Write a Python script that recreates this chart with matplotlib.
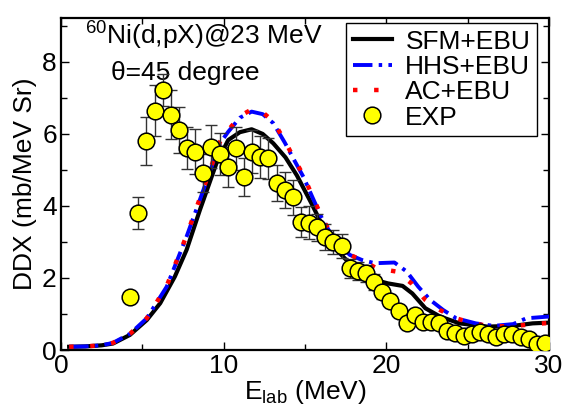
import numpy as np
import matplotlib
matplotlib.use('Agg')
import matplotlib.pyplot as plt
from matplotlib.ticker import MultipleLocator

plt.rcParams['font.family'] = ['Liberation Sans', 'DejaVu Sans']
plt.rcParams['mathtext.fontset'] = 'custom'
plt.rcParams['mathtext.rm'] = 'Liberation Sans'
plt.rcParams['mathtext.it'] = 'Liberation Sans'
plt.rcParams['lines.scale_dashes'] = False

e_exp = [4.25, 4.75, 5.25, 5.75, 6.25, 6.75, 7.25, 7.75, 8.25, 8.75, 9.25, 9.75,
         10.25, 10.75, 11.25, 11.75, 12.25, 12.75, 13.25, 13.75, 14.25, 14.75,
         15.25, 15.75, 16.25, 16.75, 17.25, 17.75, 18.25, 18.75, 19.25, 19.75,
         20.25, 20.75, 21.25, 21.75, 22.25, 22.75, 23.25, 23.75, 24.25, 24.75,
         25.25, 25.75, 26.25, 26.75, 27.25, 27.75, 28.25, 28.75, 29.25, 29.75]
ddx_exp = [1.47, 3.81, 5.81, 6.65, 7.22, 6.53, 6.11, 5.60, 5.51, 4.91, 5.65, 5.44,
           5.09, 5.60, 4.81, 5.51, 5.37, 5.32, 4.63, 4.44, 4.24, 3.56,
           3.54, 3.41, 3.13, 3.01, 2.89, 2.27, 2.20, 2.13, 1.90, 1.62,
           1.37, 1.09, 0.76, 0.97, 0.77, 0.79, 0.76, 0.54, 0.48, 0.39,
           0.44, 0.51, 0.44, 0.37, 0.44, 0.44, 0.37, 0.30, 0.17, 0.20]
err_exp = [0.15, 0.45, 0.66, 0.72, 0.45, 0.68, 0.63, 0.58, 0.62, 0.52, 0.60, 0.58,
           0.55, 0.60, 0.52, 0.60, 0.58, 0.56, 0.50, 0.50, 0.48, 0.42,
           0.45, 0.38, 0.36, 0.33, 0.33, 0.26, 0.25, 0.24, 0.22, 0.19,
           0.16, 0.13, 0.10, 0.12, 0.10, 0.10, 0.10, 0.07, 0.06, 0.05,
           0.06, 0.07, 0.06, 0.05, 0.06, 0.06, 0.05, 0.04, 0.03, 0.03]

# SFM+EBU
e_sfm = [0.5, 1.5, 2.5, 3.2, 4.24, 5.27, 6.1, 7.0, 7.72, 8.54, 9.26, 9.56, 10.28,
         11.0, 11.72, 12.4, 13.05, 13.8, 14.5, 15.4, 16.1, 16.95, 17.5, 18.0,
         19.35, 20.1, 21.0, 21.6, 22.4, 23.3, 24.5, 26.2, 27.8, 29.0, 30.0]
ddx_sfm = [0.09, 0.10, 0.13, 0.18, 0.42, 0.83, 1.30, 2.04, 2.78, 3.89, 4.81, 5.19, 5.83,
           6.05, 6.13, 6.00, 5.74, 5.35, 4.85, 4.07, 3.43, 2.78, 2.52, 2.33,
           1.94, 1.85, 1.78, 1.57, 1.16, 0.93, 0.74, 0.65, 0.67, 0.74, 0.76]

# HHS+EBU
e_hhs = [0.5, 1.5, 2.5, 3.2, 4.24, 5.27, 6.5, 7.72, 8.75, 9.77, 10.28, 11.0, 11.72,
         12.4, 13.05, 13.77, 14.28, 14.9, 15.5, 16.1, 16.9, 17.76, 18.5, 19.3,
         20.5, 21.25, 21.96, 22.7, 23.5, 24.3, 25.5, 26.6, 27.8, 28.6, 30.0]
ddx_hhs = [0.09, 0.10, 0.13, 0.20, 0.45, 0.88, 1.76, 3.15, 4.44, 5.74, 6.06, 6.45, 6.62,
           6.55, 6.30, 5.75, 5.32, 4.81, 4.20, 3.60, 3.00, 2.64, 2.50, 2.41,
           2.43, 2.18, 1.76, 1.39, 1.11, 0.88, 0.74, 0.67, 0.72, 0.88, 0.93]

# AC+EBU
e_ac = [0.5, 1.5, 2.5, 3.2, 4.24, 5.27, 6.5, 7.72, 8.75, 9.77, 10.28, 11.0, 11.72,
        12.4, 13.05, 13.77, 14.28, 14.9, 15.5, 16.1, 16.9, 17.76, 18.5, 19.4,
        20.6, 21.55, 22.4, 23.3, 24.3, 25.5, 26.6, 27.8, 29.0, 30.0]
ddx_ac = [0.09, 0.10, 0.13, 0.20, 0.45, 0.88, 1.78, 3.18, 4.48, 5.78, 6.10, 6.50, 6.68,
          6.60, 6.35, 5.80, 5.36, 4.85, 4.23, 3.62, 3.02, 2.64, 2.50, 2.27,
          2.18, 1.85, 1.39, 1.11, 0.88, 0.72, 0.66, 0.66, 0.72, 0.75]

fig = plt.figure(figsize=(5.68, 4.11), dpi=100)
ax = fig.add_axes([0.1074, 0.1484, 0.8591, 0.8078])

ax.plot(e_sfm, ddx_sfm, color='black', lw=3.0, label='SFM+EBU', zorder=3)
ax.plot(e_hhs, ddx_hhs, color='#0000ff', lw=2.8, dashes=(14, 4.5, 2.5, 4.5),
        label='HHS+EBU', zorder=4)
ax.plot(e_ac, ddx_ac, color='#ff0000', lw=3.2, dashes=(3.2, 12),
        label='AC+EBU', zorder=5)
ax.errorbar(e_exp, ddx_exp, yerr=err_exp, fmt='none', ecolor='#333333',
            elinewidth=1.0, capsize=4.5, capthick=1.0, zorder=6)
ax.plot(e_exp, ddx_exp, 'o', ms=12, mfc='#ffff00', mec='black', mew=1.1,
        label='EXP', zorder=7)

ax.set_xlim(0, 30)
ax.set_ylim(0, 9.22)
ax.xaxis.set_major_locator(MultipleLocator(10))
ax.xaxis.set_minor_locator(MultipleLocator(5))
ax.yaxis.set_major_locator(MultipleLocator(2))
ax.yaxis.set_minor_locator(MultipleLocator(1))
ax.tick_params(which='both', direction='in', top=True, right=True,
               labelsize=19, width=1.0, pad=3)
ax.tick_params(which='major', length=6)
ax.tick_params(which='minor', length=4)
for s in ax.spines.values():
    s.set_linewidth(1.6)

ax.set_xlabel(r'E$_{\rm lab}$ (MeV)', fontsize=19, labelpad=0)
ax.set_ylabel('DDX (mb/MeV Sr)', fontsize=19, labelpad=4)

ax.text(1.45, 8.47, r'$^{60}$Ni(d,pX)@23 MeV', fontsize=19)
ax.text(3.1, 7.5, 'θ=45 degree', fontsize=19)

leg = ax.legend(loc='upper right', bbox_to_anchor=(0.9754, 0.985),
                borderaxespad=0, fontsize=19, handlelength=1.5,
                handletextpad=0.5, labelspacing=0.05, borderpad=0.25,
                fancybox=False, frameon=True, edgecolor='black', framealpha=1)
leg.get_frame().set_linewidth(1.0)

fig.savefig('out.png', dpi=100)
